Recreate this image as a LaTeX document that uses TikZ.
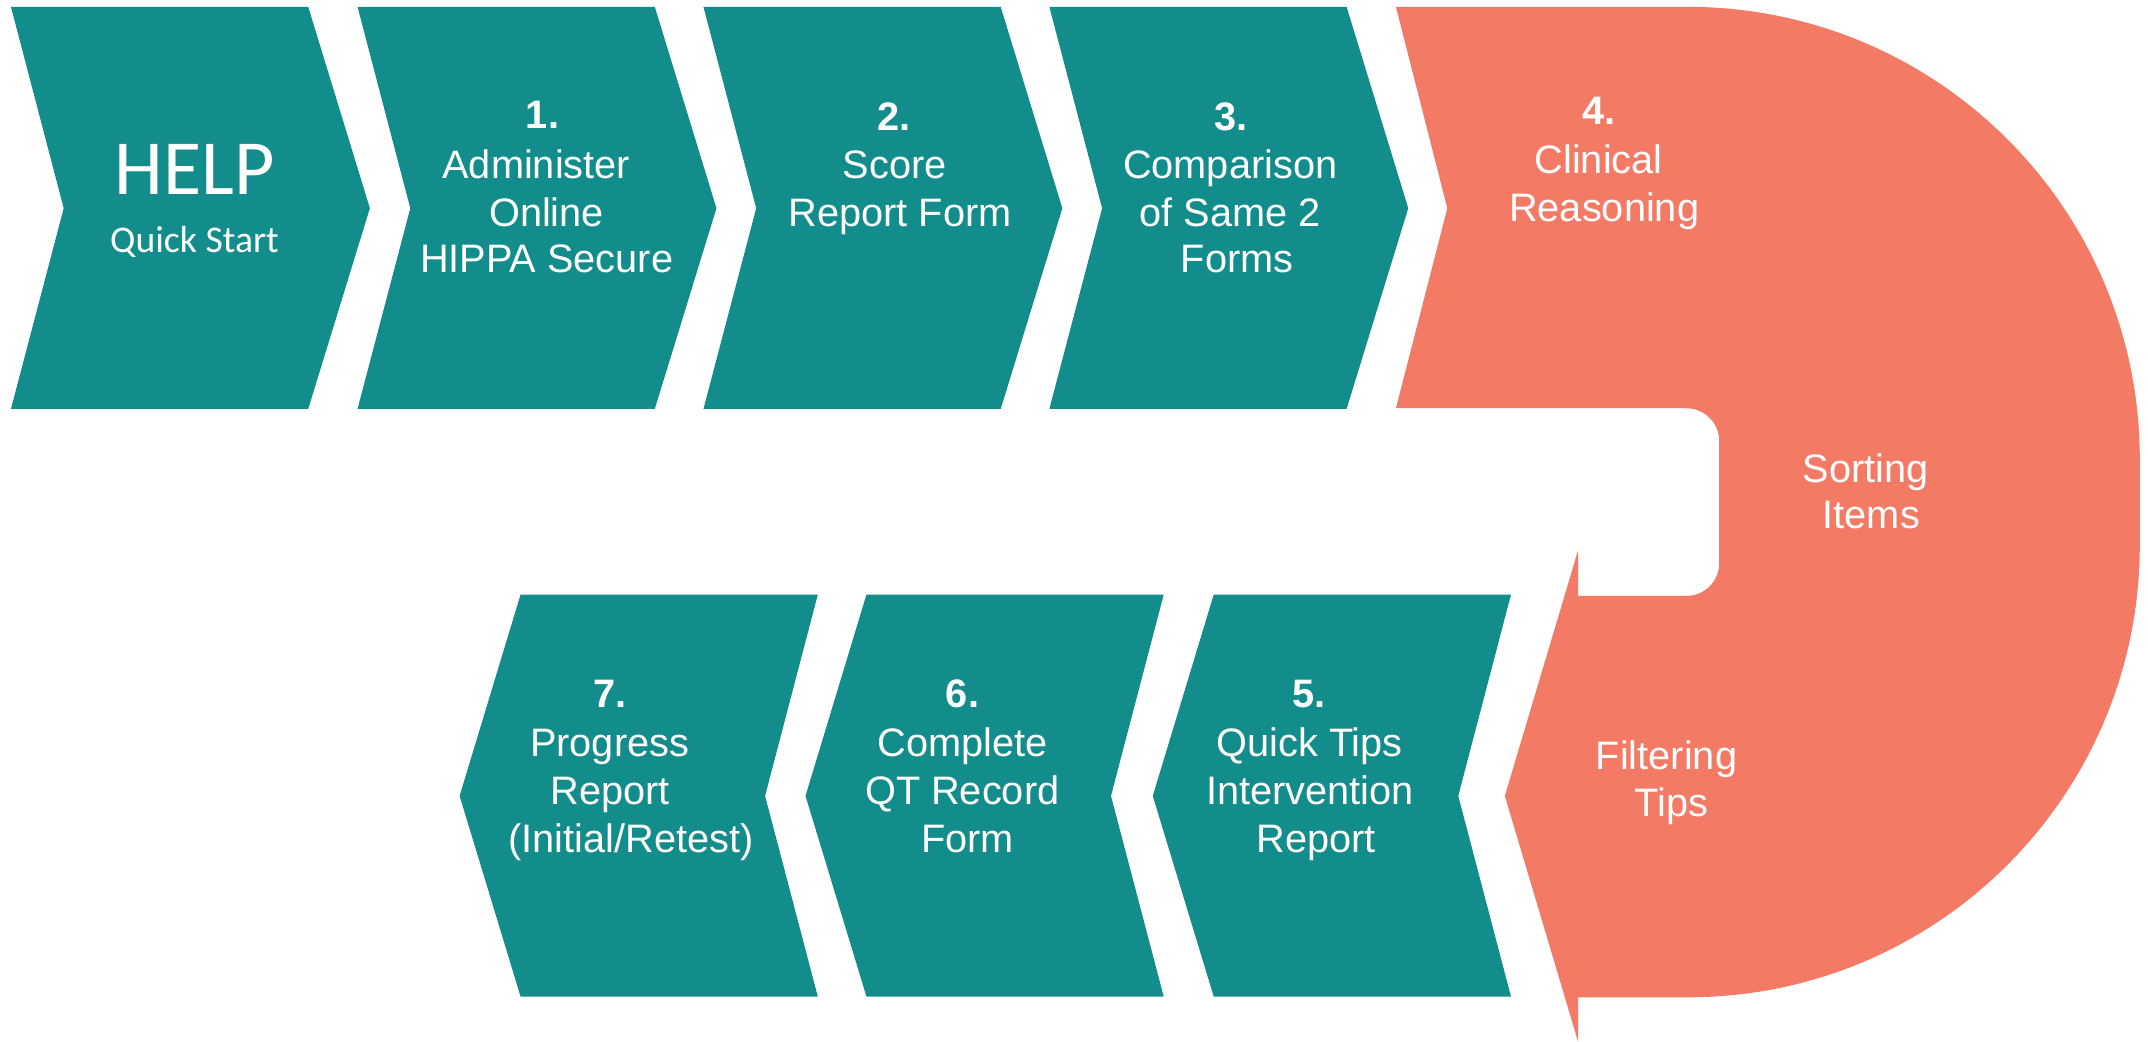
\documentclass[tikz,border=0pt]{standalone}
\usepackage{fontspec}
\setmainfont{Liberation Sans}
\newfontfamily\helpfont{Carlito}
\definecolor{stepteal}{RGB}{19,141,139}
\definecolor{stepcoral}{RGB}{243,123,102}
\begin{document}
\begin{tikzpicture}[x=1pt,y=-1pt,
  tealfill/.style={fill=stepteal},
  coralfill/.style={fill=stepcoral},
  txt/.style={text=white,inner sep=0pt,anchor=base,font=\fontsize{29}{34}\selectfont},
  num/.style={txt,font=\fontsize{29}{34}\selectfont\bfseries},
  bigtxt/.style={text=white,inner sep=0pt,anchor=base,font=\helpfont\fontsize{57}{66}\selectfont},
  subtxt/.style={text=white,inner sep=0pt,anchor=base,font=\helpfont\fontsize{27.5}{32}\selectfont}]
\useasboundingbox (0,0) rectangle (1568,760.6);

% upper row: chevrons pointing right
\foreach \L in {8,261,513.5,766}
  \fill[tealfill] (\L,5) -- ++(217,0) -- ++(45,147) -- ++(-45,146.5)
    -- ++(-217,0) -- ++(38.5,-146.5) -- cycle;

% lower row: chevrons pointing left
\foreach \L in {380,632.5,886}
  \fill[tealfill] (\L,434) -- ++(217,0) -- ++(-38.5,147) -- ++(38.5,146.5)
    -- ++(-217,0) -- ++(-44.5,-146.5) -- cycle;

% the U-turn step
\fill[coralfill] (1019,5) -- (1232,5)
  .. controls (1414.3,5) and (1562,152.7) .. (1562,335)
  -- (1562,398)
  .. controls (1562,580.3) and (1414.3,728) .. (1232,728)
  -- (1152,728) -- (1152,760.6) -- (1098.5,581) -- (1152,401.5) -- (1152,435)
  -- (1231,435) .. controls (1244.3,435) and (1255,424.3) .. (1255,411)
  -- (1255,322) .. controls (1255,308.7) and (1244.3,298) .. (1231,298)
  -- (1019,298) -- (1056.5,152) -- cycle;

% labels
\node[bigtxt] (help) at (142,142) {HELP};
\node[subtxt] (quick) at (142,184) {Quick Start};

\node[num] (n1) at (396,94) {1.};
\node[txt] (a1) at (391.5,130) {Administer};
\node[txt] (b1) at (399,165) {Online};
\node[txt] (c1) at (399,199) {HIPPA Secure};

\node[num] (n2) at (652.5,95) {2.};
\node[txt] (a2) at (653,130) {Score};
\node[txt] (b2) at (657,165) {Report Form};

\node[num] (n3) at (898.5,95) {3.};
\node[txt] (a3) at (898,130) {Comparison};
\node[txt] (b3) at (898,165) {of Same 2};
\node[txt] (c3) at (903,199) {Forms};

\node[num] (n4) at (1167,91) {4.};
\node[txt] (a4) at (1167,127) {Clinical};
\node[txt] (b4) at (1171,162) {Reasoning};
\node[txt] (s4) at (1362,352) {Sorting};
\node[txt] (t4) at (1366,386) {Items};
\node[txt] (f4) at (1216.5,562) {Filtering};
\node[txt] (g4) at (1220,596) {Tips};

\node[num] (n5) at (955.7,516.5) {5.};
\node[txt] (a5) at (956,552) {Quick Tips};
\node[txt] (b5) at (956.3,587) {Intervention};
\node[txt] (c5) at (960.6,622) {Report};

\node[num] (n6) at (702.6,516.5) {6.};
\node[txt] (a6) at (702.7,552) {Complete};
\node[txt] (b6) at (702.4,587) {QT Record};
\node[txt] (c6) at (706.4,622) {Form};

\node[num] (n7) at (445,516.5) {7.};
\node[txt] (a7) at (445,552) {Progress};
\node[txt] (b7) at (445.5,587) {Report};
\node[txt] (c7) at (460.6,622) {(Initial/Retest)};
\end{tikzpicture}
\end{document}
